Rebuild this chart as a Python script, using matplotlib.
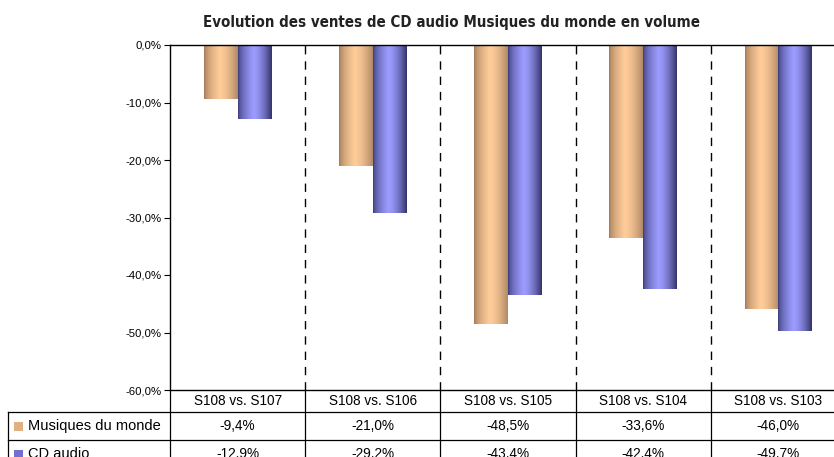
import numpy as np
import matplotlib
matplotlib.use("Agg")
import matplotlib.pyplot as plt
import matplotlib.transforms as mtrans
from matplotlib.colors import to_rgb
from matplotlib.patches import Rectangle

# chart data
categories = ["S108 vs. S107", "S108 vs. S106", "S108 vs. S105", "S108 vs. S104", "S108 vs. S103"]
series_names = ["Musiques du monde", "CD audio"]
musiques = [-9.4, -21.0, -48.5, -33.6, -46.0]
cd_audio = [-12.9, -29.2, -43.4, -42.4, -49.7]
yticks = [0, -10, -20, -30, -40, -50, -60]

plt.rcParams["font.family"] = ["Liberation Sans", "DejaVu Sans"]

W, H = 834, 457
fig = plt.figure(figsize=(W / 100, H / 100), dpi=100)

def px(x, y):
    # pixel position -> figure fraction
    return x / W, 1 - y / H

left, top = px(170, 45)
right, bottom = px(846, 390)
ax = fig.add_axes([left, bottom, right - left, top - bottom])

# colour ramps for the "cylinder" bars: (edge dark, centre light, edge dark)
ramps = [
    (to_rgb("#a07a56"), to_rgb("#ffcc99"), to_rgb("#b08a66")),
    (to_rgb("#3c3c78"), to_rgb("#9c9cff"), to_rgb("#34346a")),
]

def gradient(ramp, n=64):
    t = np.linspace(0, 1, n)
    peak = 0.45
    lo, mid, hi = (np.array(c) for c in ramp)
    out = np.zeros((1, n, 3))
    for i, tt in enumerate(t):
        if tt < peak:
            w = (tt / peak) ** 0.6
            out[0, i] = lo * (1 - w) + mid * w
        else:
            w = ((tt - peak) / (1 - peak)) ** 1.6
            out[0, i] = mid * (1 - w) + hi * w
    return out

bw = 0.25
x = np.arange(len(categories))
for k, vals in enumerate([musiques, cd_audio]):
    img = gradient(ramps[k])
    for xi, v in zip(x, vals):
        x0 = xi - bw + k * bw
        ax.imshow(img, extent=[x0, x0 + bw, v / 100, 0], aspect="auto",
                  interpolation="bilinear", zorder=2)

ax.set_xlim(-0.5, len(categories) - 0.5)
ax.set_ylim(-0.6, 0)
ax.set_yticks([t / 100 for t in yticks])
ax.set_yticklabels([f"{t:.1f}%".replace(".", ",") for t in yticks], fontsize=8.2)
ax.tick_params(axis="y", length=4, width=0.8, pad=2)
ax.set_xticks([])
ax.spines["right"].set_visible(False)
for s in ["left", "top", "bottom"]:
    ax.spines[s].set_linewidth(1.0)

# dashed separators between categories
for b in x[:-1] + 0.5:
    ax.axvline(b, color="black", lw=1.0, ls=(0, (6, 5)), zorder=1)

tx, ty = px(452, 22)
fig.text(tx, ty, "Evolution des ventes de CD audio Musiques du monde en volume",
         ha="center", va="center", fontsize=10.8, fontweight="bold",
         family="DejaVu Sans", fontstretch="condensed", color="#222222")

# data table under the plot
tr = mtrans.blended_transform_factory(ax.transData, fig.transFigure)
rows_y = [390, 412, 440, 468]
for b in list(x[:-1] + 0.5):
    fig.add_artist(plt.Line2D([b, b], [px(0, 390)[1], px(0, 470)[1]], transform=tr, color="black", lw=0.9))
for yy in rows_y[1:3]:
    fig.add_artist(plt.Line2D([px(8, 0)[0], 1.02], [px(0, yy)[1]] * 2,
                              transform=fig.transFigure, color="black", lw=0.9))
fig.add_artist(plt.Line2D([px(8, 0)[0]] * 2, [px(0, 412)[1], px(0, 470)[1]],
                          transform=fig.transFigure, color="black", lw=0.9))
fig.add_artist(plt.Line2D([px(170, 0)[0]] * 2, [px(0, 390)[1], px(0, 470)[1]],
                          transform=fig.transFigure, color="black", lw=0.9))

for xi, c in zip(x, categories):
    fig.text(xi, px(0, 401)[1], c, transform=tr, ha="center", va="center", fontsize=9.8)

for r, (name, vals) in enumerate(zip(series_names, [musiques, cd_audio])):
    yc = (rows_y[r + 1] + rows_y[r + 2]) / 2
    sq_x, sq_y = px(14, yc + 4.5)
    fig.add_artist(Rectangle((sq_x, sq_y), 9 / W, 9 / H, transform=fig.transFigure,
                             facecolor="#e0b080" if r == 0 else "#7070d0", edgecolor="none"))
    fig.text(px(28, 0)[0], px(0, yc)[1], name, ha="left", va="center", fontsize=10.5)
    for xi, v in zip(x, vals):
        fig.text(xi, px(0, yc)[1], f"{v:.1f}%".replace(".", ","), transform=tr,
                 ha="center", va="center", fontsize=9.8)

fig.savefig("out.png", dpi=100)
